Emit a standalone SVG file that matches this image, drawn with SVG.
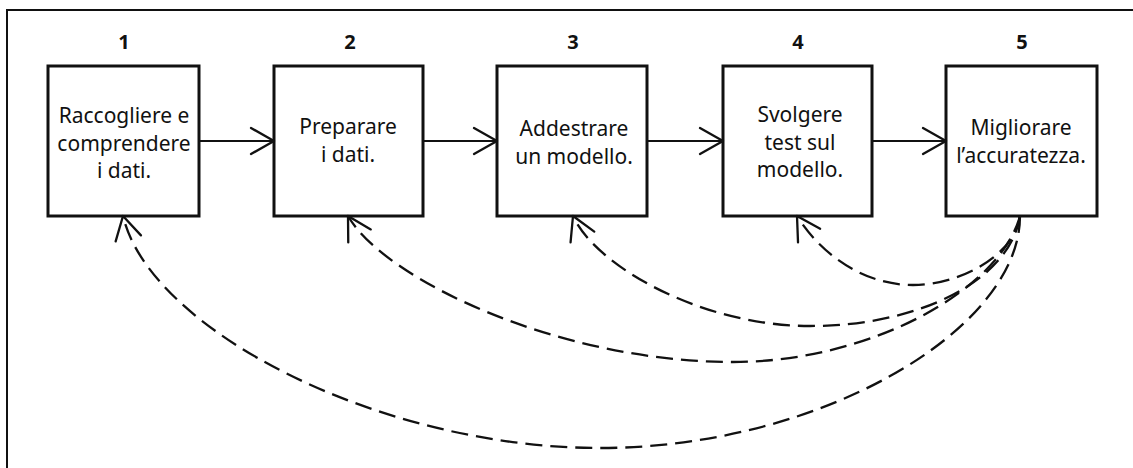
<svg xmlns="http://www.w3.org/2000/svg" width="1133" height="468" viewBox="0 0 1133 468">
  <style>
    .frame { fill: none; stroke: #111; stroke-width: 2; }
    .box { fill: #fff; stroke: #111; stroke-width: 3; }
    .label { font-family: "Comic Sans MS", "Noto Sans", sans-serif; font-size: 21px; fill: #111; text-anchor: middle; }
    .num { font-family: "Comic Sans MS", "Noto Sans", sans-serif; font-size: 20px; font-weight: bold; fill: #111; text-anchor: middle; }
    .flow { fill: none; stroke: #111; stroke-width: 2.2; marker-end: url(#open); }
    .loop { fill: none; stroke: #111; stroke-width: 2.3; stroke-dasharray: 17 8; marker-end: url(#open); }
  </style>
  <defs>
    <marker id="open" markerUnits="userSpaceOnUse" markerWidth="30" markerHeight="30" viewBox="-26 -15 30 30" refX="0" refY="0" orient="auto" overflow="visible">
      <path d="M-23,-13 L0,0 L-23,13" fill="none" stroke="#111" stroke-width="2.3" stroke-dasharray="none" stroke-linecap="round" stroke-linejoin="round"/>
    </marker>
  </defs>

  <rect width="1133" height="468" fill="#fff"/>
  <!-- open frame: only the top and left edges fall inside the canvas -->
  <rect class="frame" x="7" y="10" width="1140" height="470"/>

  <!-- step nodes -->
  <g id="step1">
    <text class="num" x="124" y="49">1</text>
    <rect class="box" x="48" y="66" width="151" height="150"/>
    <text class="label" x="124" y="123">Raccogliere e</text>
    <text class="label" x="124" y="151">comprendere</text>
    <text class="label" x="124" y="178">i dati.</text>
  </g>
  <g id="step2">
    <text class="num" x="350" y="49">2</text>
    <rect class="box" x="274" y="66" width="149" height="150"/>
    <text class="label" x="348" y="134">Preparare</text>
    <text class="label" x="348" y="162">i dati.</text>
  </g>
  <g id="step3">
    <text class="num" x="573" y="49">3</text>
    <rect class="box" x="497" y="66" width="150" height="150"/>
    <text class="label" x="574" y="136">Addestrare</text>
    <text class="label" x="574" y="164">un modello.</text>
  </g>
  <g id="step4">
    <text class="num" x="798" y="49">4</text>
    <rect class="box" x="723" y="66" width="149" height="150"/>
    <text class="label" x="800" y="122">Svolgere</text>
    <text class="label" x="800" y="150">test sul</text>
    <text class="label" x="800" y="177">modello.</text>
  </g>
  <g id="step5">
    <text class="num" x="1022" y="49">5</text>
    <rect class="box" x="946" y="66" width="151" height="150"/>
    <text class="label" x="1021" y="135">Migliorare</text>
    <text class="label" x="1021" y="163">l’accuratezza.</text>
  </g>

  <!-- connectors -->
  <g id="connectors">
    <line class="flow" x1="199" y1="141" x2="274" y2="141"/>
    <line class="flow" x1="423" y1="141" x2="497" y2="141"/>
    <line class="flow" x1="647" y1="141" x2="723" y2="141"/>
    <line class="flow" x1="872" y1="141" x2="946" y2="141"/>

    <!-- feedback loops from step 5 back to every earlier step -->
    <path class="loop" d="M1020,216 C1015,255 960,285 913,285 C860,285 818,250 797,216"/>
    <path class="loop" d="M1020,216 C1010,280 920,326 810,326 C700,326 595,265 573,216"/>
    <path class="loop" d="M1020,216 C1000,290 870,362 733,362 C560,362 385,280 348,216"/>
    <path class="loop" d="M1020,216 C1020,330 820,448 600,448 C380,448 150,330 123,216"/>
  </g>
</svg>
